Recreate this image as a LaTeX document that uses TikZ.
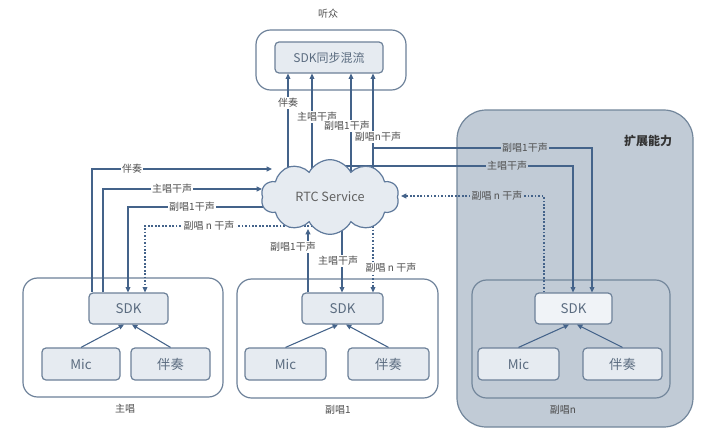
\documentclass[tikz,border=0pt]{standalone}
\usepackage{fontspec}
\setmainfont{Noto Sans CJK SC}
\usetikzlibrary{shapes.symbols,arrows.meta}
\definecolor{ln}{HTML}{44638A}
\definecolor{bstroke}{HTML}{6D8199}
\definecolor{bfill}{HTML}{E6EBF1}
\definecolor{gfill}{HTML}{C1CBD6}
\definecolor{gstroke}{HTML}{72869B}
\definecolor{ltext}{HTML}{505050}
\definecolor{btext}{HTML}{5B6C80}
\begin{document}
\begin{tikzpicture}[x=0.75pt,y=-0.75pt,
  outer/.style={draw=bstroke, line width=0.9pt, rounded corners=11pt, fill=white, inner sep=0pt},
  inbox/.style={draw=bstroke, line width=0.9pt, fill=bfill, rounded corners=3pt, text=btext,
    font=\fontsize{10}{12}\selectfont, inner sep=0pt},
  lbl/.style={fill=white, inner sep=1pt, text=ltext, font=\fontsize{7.5}{9}\selectfont},
  grouptitle/.style={text=ltext, inner sep=0pt, font=\fontsize{7.5}{9}\selectfont},
  con/.style={draw=ln, line width=0.8pt},
  arr/.style={draw=ln, line width=0.8pt, -{Triangle[length=4pt,width=3.6pt]}},
  dot/.style={dash pattern=on 1.3pt off 1.3pt}]
\useasboundingbox (0,0) rectangle (720,439);
\fill[white] (0,0) rectangle (720,439);

% expansion area
\node[draw=gstroke, line width=0.9pt, fill=gfill, rounded corners=22pt,
  minimum width=177pt, minimum height=237.75pt] (ext) at (575,268.5) {};
\node[font=\bfseries\fontsize{9}{11}\selectfont, text=black!80] (extl) at (648,141) {扩展能力};

% listener
\node[grouptitle] (lisl) at (328,14) {听众};
\node[outer, minimum width=112.5pt, minimum height=45pt] (lis) at (331,60) {};
\node[inbox, font=\fontsize{9}{11}\selectfont, minimum width=81pt, minimum height=23.25pt] (mix) at (329,57.5) {SDK同步混流};

% lead singer
\node[outer, minimum width=150pt, minimum height=89.25pt] (lead) at (123,337.5) {};
\node[inbox, minimum width=59.25pt, minimum height=23.25pt] (sdk0) at (128.5,308.5) {SDK};
\node[inbox, minimum width=58.5pt, minimum height=24pt] (mic0) at (81,364) {Mic};
\node[inbox, minimum width=59.25pt, minimum height=24pt] (acc0) at (170.5,364) {伴奏};
\node[grouptitle] (leadl) at (125,409) {主唱};

% chorus 1
\node[outer, minimum width=150.75pt, minimum height=89.25pt] (c1) at (337.5,338.5) {};
\node[inbox, minimum width=60.75pt, minimum height=23.25pt] (sdk1) at (342.5,308.5) {SDK};
\node[inbox, minimum width=60.75pt, minimum height=24pt] (mic1) at (285.5,364) {Mic};
\node[inbox, minimum width=60.75pt, minimum height=24pt] (acc1) at (388.5,364) {伴奏};
\node[grouptitle] (c1l) at (338,410) {副唱1};

% chorus n
\node[draw=gstroke, line width=0.9pt, fill=gfill, rounded corners=11pt, inner sep=0pt,
  minimum width=148.5pt, minimum height=88.5pt] (cn) at (571,339) {};
\node[inbox, fill=bfill!60!white, minimum width=57.75pt, minimum height=23.25pt] (sdkn) at (573.5,308.5) {SDK};
\node[inbox, minimum width=60.75pt, minimum height=24pt] (micn) at (518.5,364) {Mic};
\node[inbox, minimum width=59.25pt, minimum height=24pt] (accn) at (622.5,364) {伴奏};
\node[grouptitle, text=black!70] (cnl) at (563,410) {副唱n};

% local arrows
\draw[arr] (mic0.north) -- (124,0 |- sdk0.south);
\draw[arr] (acc0.north) -- (132,0 |- sdk0.south);
\draw[arr] (mic1.north) -- (338,0 |- sdk1.south);
\draw[arr] (acc1.north) -- (346,0 |- sdk1.south);
\draw[arr] (micn.north) -- (569,0 |- sdkn.south);
\draw[arr] (accn.north) -- (577,0 |- sdkn.south);

% lines leaving the cloud (start inside, covered by cloud)
\draw[arr] (288,0 |- 0,195) -- (288,0 |- mix.south);
\draw[arr] (312,0 |- 0,195) -- (312,0 |- mix.south);
\draw[arr] (351,0 |- 0,195) -- (351,0 |- mix.south);
\draw[arr] (373,0 |- 0,195) -- (373,0 |- mix.south);
\coordinate (j1) at (373,148);
\draw[arr] (j1) -| (592,0 |- sdkn.north);
\draw[arr] (330,166) -| (573,0 |- sdkn.north);
\draw[arr] (330,207) -| (128,0 |- sdk0.north);
\draw[arr,dot] (330,226) -| (145,0 |- sdk0.north);
\draw[arr] (342,195) -- (342,0 |- sdk1.north);
\draw[arr,dot] (373,195) -- (373,0 |- sdk1.north);

% cloud
\node[cloud, cloud puffs=10, cloud puff arc=125, aspect=1.8, draw=ln!85, line width=0.9pt,
  fill=bfill, minimum width=103.5pt, minimum height=56pt, inner sep=0pt, text=ltext!90,
  font=\fontsize{9.5}{11}\selectfont] (rtc) at (330,197) {RTC Service};

% arrows into the cloud
\coordinate (tL1) at (272,169);
\coordinate (tL2) at (262,189);
\coordinate (tR1) at (401,196);
\coordinate (tB1) at (308,229);
\draw[arr] (92,0 |- sdk0.north) |- (tL1);
\draw[arr] (103,0 |- sdk0.north) |- (tL2);
\draw[arr,dot] (544,0 |- sdkn.north) |- (tR1);
\draw[arr] (308,0 |- sdk1.north) -- (tB1);

% labels
\node[lbl] (a1) at (288,103) {伴奏};
\node[lbl] (a2) at (317,117) {主唱干声};
\node[lbl] (a3) at (347,126) {副唱1干声};
\node[lbl] (a4) at (378,137) {副唱n干声};
\node[lbl] (b1) at (132,169) {伴奏};
\node[lbl] (b2) at (172,189) {主唱干声};
\node[lbl] (b3) at (192,207) {副唱1干声};
\node[lbl] (b4) at (209,226) {副唱 n 干声};
\node[lbl, fill=gfill] (r1) at (525,148) {副唱1干声};
\node[lbl, fill=gfill] (r2) at (507,166) {主唱干声};
\node[lbl, fill=gfill] (r3) at (497,196) {副唱 n 干声};
\node[lbl] (d1) at (293,247) {副唱1干声};
\node[lbl] (d2) at (338,261) {主唱干声};
\node[lbl] (d3) at (391,268) {副唱 n 干声};
\end{tikzpicture}
\end{document}
